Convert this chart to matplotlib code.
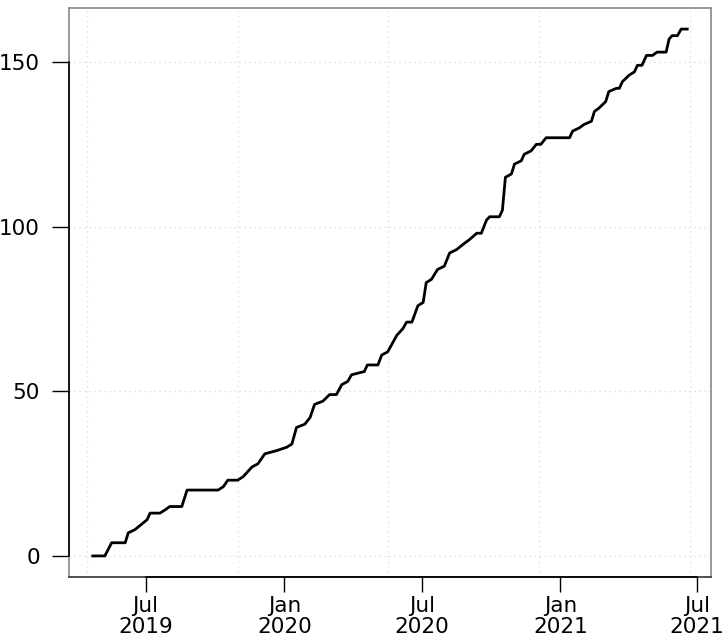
import numpy as np
import pandas as pd
import matplotlib
matplotlib.use("Agg")
import matplotlib.pyplot as plt
import matplotlib.dates as mdates

# cumulative count (corner points of the curve)
dates = [
    "2019-04-22", "2019-05-08", "2019-05-17", "2019-06-04", "2019-06-08",
    "2019-06-17", "2019-07-03", "2019-07-07", "2019-07-20", "2019-07-27",
    "2019-08-02", "2019-08-18", "2019-08-25", "2019-10-05", "2019-10-12",
    "2019-10-18", "2019-10-31", "2019-11-07", "2019-11-19", "2019-11-27",
    "2019-12-06", "2019-12-22", "2020-01-04", "2020-01-11", "2020-01-17",
    "2020-01-28", "2020-02-04", "2020-02-10", "2020-02-21", "2020-03-01",
    "2020-03-10", "2020-03-17", "2020-03-25", "2020-03-30", "2020-04-16",
    "2020-04-20", "2020-05-04", "2020-05-09", "2020-05-17", "2020-05-29",
    "2020-06-06", "2020-06-11", "2020-06-18", "2020-06-26", "2020-07-03",
    "2020-07-07", "2020-07-14", "2020-07-22", "2020-07-31", "2020-08-07",
    "2020-08-16", "2020-08-27", "2020-09-02", "2020-09-12", "2020-09-18",
    "2020-09-25", "2020-09-29", "2020-10-12", "2020-10-16", "2020-10-20",
    "2020-10-28", "2020-11-01", "2020-11-10", "2020-11-14", "2020-11-23",
    "2020-11-30", "2020-12-06", "2020-12-13", "2021-01-13", "2021-01-17",
    "2021-01-26", "2021-02-01", "2021-02-11", "2021-02-15", "2021-02-21",
    "2021-03-02", "2021-03-06", "2021-03-16", "2021-03-20", "2021-03-24",
    "2021-04-02", "2021-04-09", "2021-04-13", "2021-04-19", "2021-04-25",
    "2021-05-03", "2021-05-09", "2021-05-21", "2021-05-25", "2021-05-29",
    "2021-06-05", "2021-06-10", "2021-06-18",
]
counts = [
    0, 0, 4, 4, 7,
    8, 11, 13, 13, 14,
    15, 15, 20, 20, 21,
    23, 23, 24, 27, 28,
    31, 32, 33, 34, 39,
    40, 42, 46, 47, 49,
    49, 52, 53, 55, 56,
    58, 58, 61, 62, 67,
    69, 71, 71, 76, 77,
    83, 84, 87, 88, 92,
    93, 95, 96, 98, 98,
    102, 103, 103, 105, 115,
    116, 119, 120, 122, 123,
    125, 125, 127, 127, 129,
    130, 131, 132, 135, 136,
    138, 141, 142, 142, 144,
    146, 147, 149, 149, 152,
    152, 153, 153, 157, 158,
    158, 160, 160,
]

tick_dates = ["2019-07-01", "2020-01-01", "2020-07-01", "2021-01-01", "2021-07-01"]
tick_labels = ["Jul\n2019", "Jan\n2020", "Jul\n2020", "Jan\n2021", "Jul\n2021"]
y_ticks = [0, 50, 100, 150]
grid_x = [18000, 18200, 18400, 18600, 18800]  # days since 1970, like R's grid()

x = mdates.date2num(pd.to_datetime(dates))
xt = mdates.date2num(pd.to_datetime(tick_dates))

fig = plt.figure(figsize=(7.26, 6.36), dpi=100)
ax = fig.add_axes([69 / 726, 59 / 636, 642 / 726, 569 / 636])

# grid
for g in grid_x:
    ax.axvline(g, color="#d9d9d9", lw=0.9, ls=(0, (1, 3)), zorder=0)
for g in y_ticks:
    ax.axhline(g, color="#d9d9d9", lw=0.9, ls=(0, (1, 3)), zorder=0)

ax.plot(x, counts, color="black", lw=2.0, zorder=3)

# R style 4% expansion
xr = x.max() - x.min()
ax.set_xlim(x.min() - 0.04 * xr, x.max() + 0.04 * xr)
ax.set_ylim(-0.04 * max(counts), max(counts) * 1.04)

ax.set_xticks(xt)
ax.set_xticklabels(tick_labels, fontsize=15.5, linespacing=1.05)
ax.set_yticks(y_ticks)
ax.set_yticklabels([str(v) for v in y_ticks], fontsize=15.5)
ax.tick_params(axis="x", length=11, width=1, pad=3)
ax.tick_params(axis="y", length=12, width=1, pad=9)

for s in ax.spines.values():
    s.set_color("#888888")
    s.set_linewidth(1.2)
ax.spines["bottom"].set_color("#333333")

# black axis lines spanning the ticks
ax.plot([xt[0], xt[-1]], [0, 0], color="black", lw=1.2,
        transform=ax.get_xaxis_transform(), clip_on=False, zorder=4)
ax.plot([0, 0], [y_ticks[0], y_ticks[-1]], color="black", lw=1.2,
        transform=ax.get_yaxis_transform(), clip_on=False, zorder=4)

fig.savefig("out.png", dpi=100)
